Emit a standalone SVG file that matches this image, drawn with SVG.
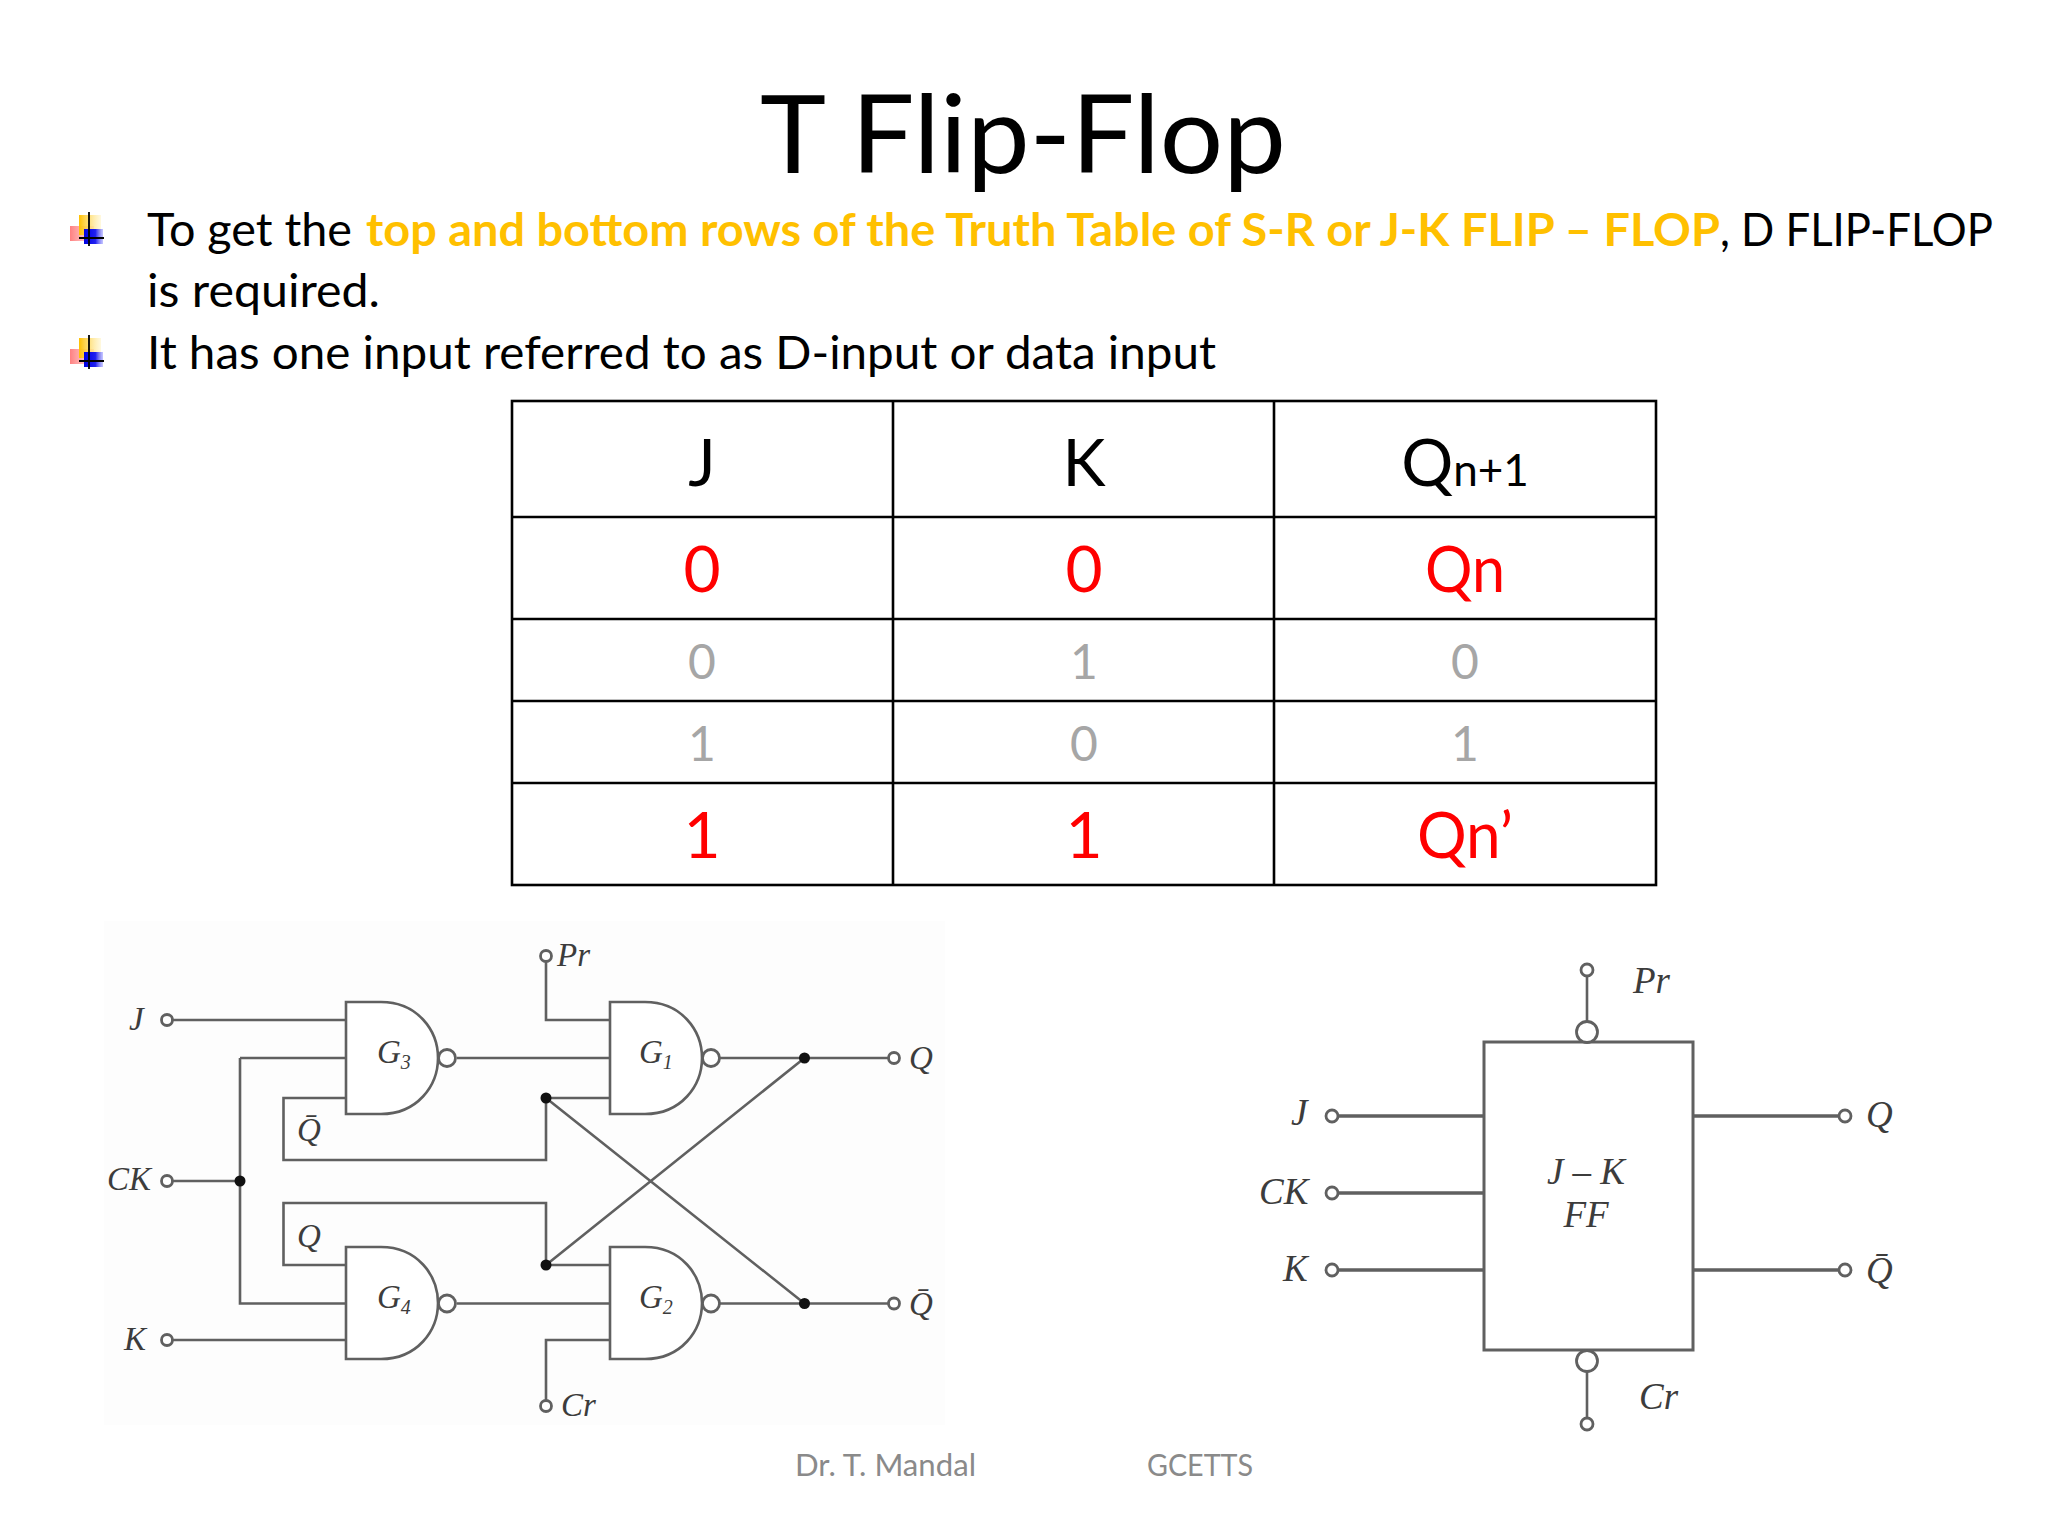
<svg xmlns="http://www.w3.org/2000/svg" xmlns:xlink="http://www.w3.org/1999/xlink" width="2048" height="1536" viewBox="0 0 2048 1536">
<style>
text{font-family:"Lato","Liberation Sans",sans-serif}
.body{font-size:46px;fill:#000}
.cell{text-anchor:middle}
.big{font-size:65px;fill:#000}
.red{font-size:64px;fill:#f00}
.gray{font-size:48px;fill:#a6a6a6}
.foot{font-size:31px;fill:#8a8a8a}
.w{fill:none;stroke:#606060;stroke-width:2.6}
.w2{fill:none;stroke:#606060;stroke-width:3.4}
.g{fill:#fff;stroke:#606060;stroke-width:2.6}
.dot{fill:#111}
.t{fill:#fff;stroke:#606060;stroke-width:2.8}
.s{font-family:"Liberation Serif",serif;font-style:italic;fill:#3c3c3c}
.tb{stroke:#000;stroke-width:2.6;fill:none}
</style>
<defs>
<linearGradient id="gy" x1="0" x2="1" y1="0" y2="0"><stop offset="0" stop-color="#ffc000"/><stop offset="1" stop-color="#fff3c0" stop-opacity=".5"/></linearGradient>
<linearGradient id="gr" x1="0" x2="1" y1="0" y2="0"><stop offset="0" stop-color="#ff8080"/><stop offset="1" stop-color="#ffc8c8" stop-opacity=".6"/></linearGradient>
<linearGradient id="gb" x1="0" x2="1" y1="0" y2="0"><stop offset="0" stop-color="#0000e0"/><stop offset=".6" stop-color="#2020f0"/><stop offset="1" stop-color="#a0a0ff" stop-opacity=".6"/></linearGradient>
<g id="bullet">
<rect x="70" y="226" width="24" height="15" fill="url(#gr)"/>
<rect x="79" y="215" width="22" height="20" fill="url(#gy)"/>
<rect x="84" y="229" width="19" height="15" fill="url(#gb)"/>
<path d="M89 212V246M79 238H104" stroke="#000" stroke-width="1.8" fill="none"/>
</g>
<path id="gate" d="M0 0H35C71 0 92 28 92 56C92 84 71 112 35 112H0Z"/>
</defs>
<rect width="2048" height="1536" fill="#fff"/>

<text id="title" x="1023" y="173" text-anchor="middle" font-size="108" textLength="526" lengthAdjust="spacingAndGlyphs">T Flip-Flop</text>

<g id="bullets">
<use xlink:href="#bullet" href="#bullet"/>
<text class="body" x="147" y="246" textLength="205" lengthAdjust="spacingAndGlyphs">To get the</text>
<text class="body" x="366" y="246" font-weight="700" style="fill:#ffc000" textLength="1354" lengthAdjust="spacingAndGlyphs">top and bottom rows of the Truth Table of S-R or J-K FLIP – FLOP</text>
<text class="body" x="1720" y="246" textLength="273" lengthAdjust="spacingAndGlyphs">, D FLIP-FLOP</text>
<text class="body" x="147" y="307" textLength="233" lengthAdjust="spacingAndGlyphs">is required.</text>
<use xlink:href="#bullet" href="#bullet" y="123"/>
<text class="body" x="147" y="369" textLength="1069" lengthAdjust="spacingAndGlyphs">It has one input referred to as D-input or data input</text>
</g>

<g id="truth-table">
<rect class="tb" x="512" y="401" width="1144" height="484"/>
<path class="tb" d="M893 401V885M1274 401V885M512 517H1656M512 619H1656M512 701H1656M512 783H1656"/>
<text class="cell big" x="702" y="486">J</text>
<text class="cell big" x="1084" y="486">K</text>
<text class="cell big" x="1465" y="486">Q<tspan font-size="44">n+1</tspan></text>
<text class="cell red" x="702" y="592">0</text>
<text class="cell red" x="1084" y="592">0</text>
<text class="cell red" x="1465" y="592" textLength="80" lengthAdjust="spacingAndGlyphs">Qn</text>
<text class="cell gray" x="702" y="679">0</text>
<text class="cell gray" x="1084" y="679">1</text>
<text class="cell gray" x="1465" y="679">0</text>
<text class="cell gray" x="702" y="761">1</text>
<text class="cell gray" x="1084" y="761">0</text>
<text class="cell gray" x="1465" y="761">1</text>
<text class="cell red" x="702" y="858">1</text>
<text class="cell red" x="1084" y="858">1</text>
<text class="cell red" x="1465" y="858" textLength="96" lengthAdjust="spacingAndGlyphs">Qn’</text>
</g>

<rect x="104" y="921" width="841" height="504" fill="#fdfdfd"/>

<g id="connectors-left">
<path class="w" d="M173 1020H346M173 1181H240M240 1058H346M240 1058V1303.5H346M173 1340H346"/>
<path class="w" d="M546 962V1020H610M457 1058H610M720 1058H888"/>
<path class="w" d="M610 1098H546V1160H283.500V1098H346"/>
<path class="w" d="M346 1265H283.500V1203H546V1265H610"/>
<path class="w" d="M457 1303.5H610M720 1303.5H888M546 1400V1340H610"/>
<path class="w" d="M546 1098L804.500 1303.500M546 1265L804.500 1058"/>
</g>

<g id="G3"><use xlink:href="#gate" href="#gate" class="g" x="346" y="1002"/><circle class="t" cx="447" cy="1058" r="8.5"/><text class="s" x="377" y="1063" font-size="33">G<tspan font-size="20" dy="6">3</tspan></text></g>
<g id="G1"><use xlink:href="#gate" href="#gate" class="g" x="610" y="1002"/><circle class="t" cx="711" cy="1058" r="8.5"/><text class="s" x="639" y="1063" font-size="33">G<tspan font-size="20" dy="6">1</tspan></text></g>
<g id="G4"><use xlink:href="#gate" href="#gate" class="g" x="346" y="1247"/><circle class="t" cx="447" cy="1303.5" r="8.500"/><text class="s" x="377" y="1308" font-size="33">G<tspan font-size="20" dy="6">4</tspan></text></g>
<g id="G2"><use xlink:href="#gate" href="#gate" class="g" x="610" y="1247"/><circle class="t" cx="711" cy="1303.5" r="8.500"/><text class="s" x="639" y="1308" font-size="33">G<tspan font-size="20" dy="6">2</tspan></text></g>

<g id="junctions">
<circle class="dot" cx="240" cy="1181" r="5.500"/><circle class="dot" cx="546" cy="1098" r="5.500"/><circle class="dot" cx="546" cy="1265" r="5.500"/><circle class="dot" cx="804.500" cy="1058" r="5.500"/><circle class="dot" cx="804.500" cy="1303.5" r="5.500"/>
</g>

<g id="terminals-left">
<circle class="t" cx="167" cy="1020" r="5.500"/><circle class="t" cx="167" cy="1181" r="5.500"/><circle class="t" cx="167" cy="1340" r="5.500"/>
<circle class="t" cx="546" cy="956" r="5.500"/><circle class="t" cx="546" cy="1406" r="5.500"/>
<circle class="t" cx="894" cy="1058" r="5.500"/><circle class="t" cx="894" cy="1303.5" r="5.500"/>
<text class="s" x="129" y="1030" font-size="33">J</text>
<text class="s" x="107" y="1190" font-size="33">CK</text>
<text class="s" x="124" y="1350" font-size="33">K</text>
<text class="s" x="557" y="966" font-size="33">Pr</text>
<text class="s" x="561" y="1416" font-size="33">Cr</text>
<text class="s" x="909" y="1069" font-size="33">Q</text>
<text class="s" x="909" y="1315" font-size="33">Q̄</text>
<text class="s" x="297" y="1141" font-size="33">Q̄</text>
<text class="s" x="297" y="1247" font-size="33">Q</text>
</g>

<g id="connectors-right">
<path class="w2" d="M1338 1116H1484M1338 1193H1484M1338 1270H1484M1693 1116H1839M1693 1270H1839"/>
<path class="w" d="M1587 976V1021M1587 1372V1418"/>
</g>
<g id="jk-ff">
<rect class="g" x="1484" y="1042" width="209" height="308" style="stroke-width:3"/>
<text class="s" x="1586" y="1184" font-size="37" text-anchor="middle">J – K</text>
<text class="s" x="1586" y="1227" font-size="37" text-anchor="middle">FF</text>
<circle class="t" cx="1587" cy="1032" r="10.500"/><circle class="t" cx="1587" cy="1361" r="10.500"/>
</g>
<g id="terminals-right">
<circle class="t" cx="1332" cy="1116" r="6"/><circle class="t" cx="1332" cy="1193" r="6"/><circle class="t" cx="1332" cy="1270" r="6"/>
<circle class="t" cx="1845" cy="1116" r="6"/><circle class="t" cx="1845" cy="1270" r="6"/>
<circle class="t" cx="1587" cy="970" r="6"/><circle class="t" cx="1587" cy="1424" r="6"/>
<text class="s" x="1291" y="1125" font-size="37">J</text>
<text class="s" x="1259" y="1204" font-size="37">CK</text>
<text class="s" x="1283" y="1281" font-size="37">K</text>
<text class="s" x="1633" y="993" font-size="37">Pr</text>
<text class="s" x="1639" y="1409" font-size="37">Cr</text>
<text class="s" x="1866" y="1127" font-size="37">Q</text>
<text class="s" x="1866" y="1283" font-size="37">Q̄</text>
</g>

<g id="footer">
<text class="foot" x="795" y="1476" textLength="181" lengthAdjust="spacingAndGlyphs">Dr. T. Mandal</text>
<text class="foot" x="1147" y="1476" textLength="106" lengthAdjust="spacingAndGlyphs">GCETTS</text>
</g>
</svg>
